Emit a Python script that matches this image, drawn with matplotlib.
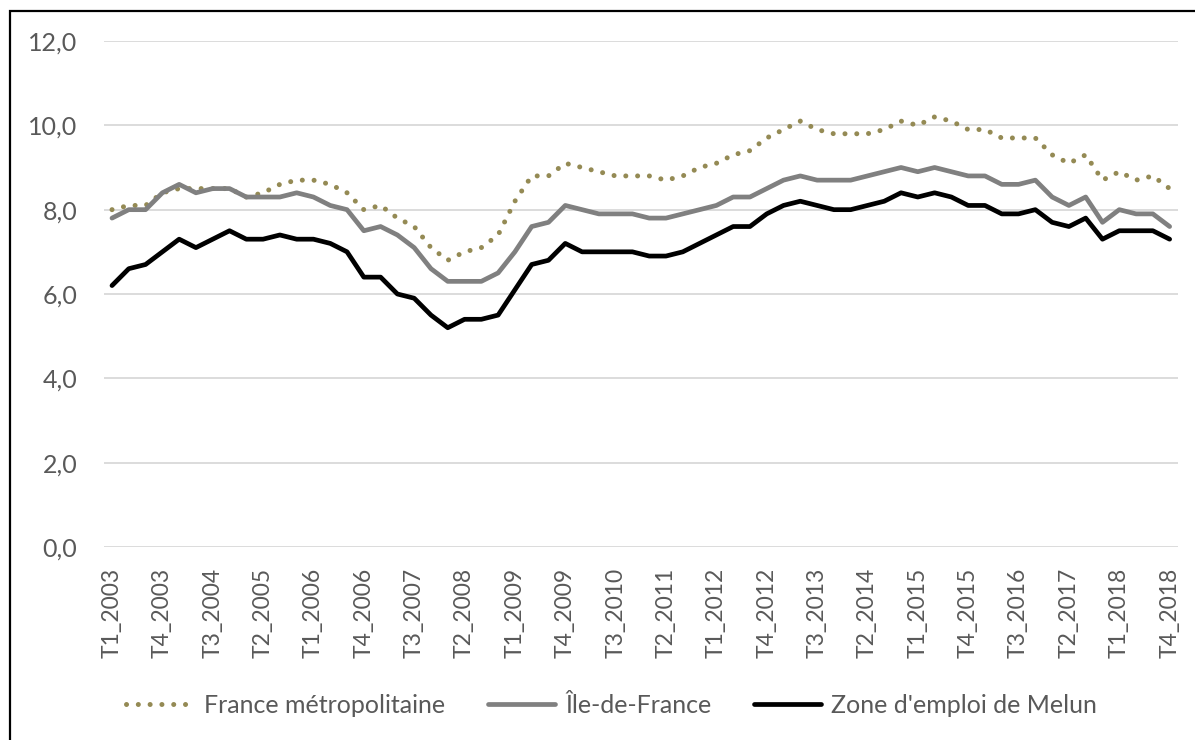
import matplotlib as mpl
mpl.use('Agg')
import matplotlib.pyplot as plt
from matplotlib.patches import Rectangle

plt.rcParams['font.family'] = ['Lato', 'DejaVu Sans']

# quarterly labels T1_2003 .. T4_2018
quarters = ['T%d_%d' % (q, y) for y in range(2003, 2019) for q in range(1, 5)]

france = [8.0, 8.1, 8.1, 8.4, 8.5, 8.5, 8.5, 8.5, 8.3, 8.4, 8.6, 8.7, 8.7, 8.6, 8.4, 8.0,
          8.1, 7.8, 7.6, 7.1, 6.8, 7.0, 7.1, 7.4, 8.2, 8.8, 8.8, 9.1, 9.0, 8.9, 8.8, 8.8,
          8.8, 8.7, 8.8, 9.0, 9.1, 9.3, 9.4, 9.7, 9.9, 10.1, 9.9, 9.8, 9.8, 9.8, 9.9, 10.1,
          10.0, 10.2, 10.1, 9.9, 9.9, 9.7, 9.7, 9.7, 9.3, 9.1, 9.3, 8.7, 8.9, 8.7, 8.8, 8.5]
idf = [7.8, 8.0, 8.0, 8.4, 8.6, 8.4, 8.5, 8.5, 8.3, 8.3, 8.3, 8.4, 8.3, 8.1, 8.0, 7.5,
       7.6, 7.4, 7.1, 6.6, 6.3, 6.3, 6.3, 6.5, 7.0, 7.6, 7.7, 8.1, 8.0, 7.9, 7.9, 7.9,
       7.8, 7.8, 7.9, 8.0, 8.1, 8.3, 8.3, 8.5, 8.7, 8.8, 8.7, 8.7, 8.7, 8.8, 8.9, 9.0,
       8.9, 9.0, 8.9, 8.8, 8.8, 8.6, 8.6, 8.7, 8.3, 8.1, 8.3, 7.7, 8.0, 7.9, 7.9, 7.6]
melun = [6.2, 6.6, 6.7, 7.0, 7.3, 7.1, 7.3, 7.5, 7.3, 7.3, 7.4, 7.3, 7.3, 7.2, 7.0, 6.4,
         6.4, 6.0, 5.9, 5.5, 5.2, 5.4, 5.4, 5.5, 6.1, 6.7, 6.8, 7.2, 7.0, 7.0, 7.0, 7.0,
         6.9, 6.9, 7.0, 7.2, 7.4, 7.6, 7.6, 7.9, 8.1, 8.2, 8.1, 8.0, 8.0, 8.1, 8.2, 8.4,
         8.3, 8.4, 8.3, 8.1, 8.1, 7.9, 7.9, 8.0, 7.7, 7.6, 7.8, 7.3, 7.5, 7.5, 7.5, 7.3]

names = ['France métropolitaine', 'Île-de-France', "Zone d'emploi de Melun"]
yticks = [0, 2, 4, 6, 8, 10, 12]

txt = '#595959'
fig = plt.figure(figsize=(11.95, 7.4), dpi=100)
ax = fig.add_axes([0.0867, 0.2608, 0.8991, 0.6838])

x = range(len(quarters))
ax.plot(x, france, color='#948A54', lw=3.6, linestyle=(0, (0.01, 2.35)),
        dash_capstyle='round', label=names[0])
ax.plot(x, idf, color='#808080', lw=3.4, solid_joinstyle='round',
        solid_capstyle='round', label=names[1])
ax.plot(x, melun, color='black', lw=3.4, solid_joinstyle='round',
        solid_capstyle='round', label=names[2])

ax.set_xlim(-0.5, len(quarters) - 0.5)
ax.set_ylim(0, 12)
ax.set_yticks(yticks)
ax.set_yticklabels(['%d,0' % v for v in yticks])
ax.set_xticks(range(0, len(quarters), 3))
ax.set_xticklabels(quarters[::3], rotation=90)
ax.tick_params(length=0, labelsize=18, labelcolor=txt)
ax.tick_params(axis='x', labelsize=16.5, pad=15)
ax.tick_params(axis='y', pad=19)
ax.grid(axis='y', color='#D9D9D9', lw=1.3)
ax.set_axisbelow(True)
for s in ax.spines.values():
    s.set_visible(False)

fig.legend(loc='center', bbox_to_anchor=(0.512, 0.047), ncol=3, frameon=False,
           fontsize=18, labelcolor=txt, handlelength=2.7, handletextpad=0.4,
           columnspacing=1.7)

fig.patches.append(Rectangle((10 / 1195, -0.1), 1.2, 1.1 - 10.5 / 740, transform=fig.transFigure,
                             fill=False, edgecolor='black', lw=1.6, clip_on=False))

fig.savefig('out.png', dpi=100)
